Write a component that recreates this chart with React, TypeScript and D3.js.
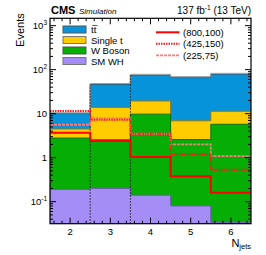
import React, { useEffect, useRef } from 'react';
import * as d3 from 'd3';

// N_jets bins
const bins = [2, 3, 4, 5, 6];
// stacked backgrounds (bottom -> top)
const smWH = [0.19, 0.2, 0.14, 0.08, 0.034];
const wBoson = [2.6, 2.35, 9.6, 2.5, 5.7];
const singleT = [1.7, 11.35, 9.7, 4.3, 5.6];
const ttbar = [5.5, 32, 55, 59, 67];
// signal points (mH, mchi)
const sig800 = [3.7, 2.4, 1.03, 0.38, 0.16];
const sig425 = [11.5, 7.3, 3.5, 1.19, 0.53];
const sig225 = [5.6, 7.9, 3.5, 2.0, 1.09];

const bgNames = ['tt\u0305', 'Single t', 'W Boson', 'SM WH'];
const sigNames = ['(800,100)', '(425,150)', '(225,75)'];

const W = 266;
const H = 255;
const font = '"Liberation Sans", Arial, sans-serif';

export default function App() {
  const ref = useRef<SVGSVGElement>(null);

  useEffect(() => {
    if (!ref.current) return;
    const svg = d3.select(ref.current);
    svg.selectAll('*').remove();

    const left = 50, right = 251, top = 18.3, bottom = 223.7;
    const x = d3.scaleLinear().domain([1.5, 6.5]).range([left, right]);
    const y = d3.scaleLog().domain([0.0316, 1470]).range([bottom, top]);

    svg.append('defs').append('clipPath').attr('id', 'plot')
      .append('rect').attr('x', left).attr('y', top)
      .attr('width', right - left).attr('height', bottom - top);

    const g = svg.append('g').attr('clip-path', 'url(#plot)');

    const toPts = (vals: number[]) => {
      const pts = vals.map((v, i) => [bins[i] - 0.5, v] as [number, number]);
      pts.push([6.5, vals[vals.length - 1]]);
      return pts;
    };

    // cumulative stack
    const layers = [smWH, wBoson, singleT, ttbar];
    const cum: number[][] = [];
    layers.forEach((l, k) => {
      cum.push(l.map((v, i) => v + (k > 0 ? cum[k - 1][i] : 0)));
    });
    const fills = ['#a48ef6', '#05ad05', '#ffcc00', '#0793d9'];
    const strokes = ['#6d5fb0', '#0a6e0a', '#8a7a20', '#1f5f86'];

    const area = d3.area<[number, number]>()
      .curve(d3.curveStepAfter)
      .x(d => x(d[0]))
      .y0(bottom + 5)
      .y1(d => y(d[1]));

    for (let k = 3; k >= 0; k--) {
      g.append('path')
        .attr('d', area(toPts(cum[k])))
        .attr('fill', fills[k])
        .attr('stroke', strokes[k])
        .attr('stroke-width', 1);
    }
    // total outline
    const line = d3.line<[number, number]>()
      .curve(d3.curveStepAfter)
      .x(d => x(d[0]))
      .y(d => y(d[1]));
    g.append('path')
      .attr('d', line(toPts(cum[3])))
      .attr('transform', 'translate(0,-1)')
      .attr('fill', 'none')
      .attr('stroke', '#999')
      .attr('stroke-width', 1);

    // dotted bin edges
    [2.5, 3.5].forEach((e, j) => {
      const tot = Math.max(cum[3][j], cum[3][j + 1]);
      g.append('line')
        .attr('x1', x(e)).attr('x2', x(e))
        .attr('y1', bottom).attr('y2', y(tot))
        .attr('stroke', '#222').attr('stroke-width', 1)
        .attr('stroke-dasharray', '1.5,1.5');
    });

    // signals
    const sigs = [
      { v: sig225, c: '#ff7a7a', dash: '3,1', w: 1.8 },
      { v: sig425, c: '#ff1a1a', dash: '1.5,1', w: 2 },
      { v: sig800, c: '#ff0000', dash: null, w: 2 },
    ];
    sigs.forEach(s => {
      g.append('path')
        .attr('d', line(toPts(s.v)))
        .attr('fill', 'none')
        .attr('stroke', s.c)
        .attr('stroke-width', s.w)
        .attr('stroke-dasharray', s.dash);
    });

    // frame
    svg.append('rect')
      .attr('x', left).attr('y', top)
      .attr('width', right - left).attr('height', bottom - top)
      .attr('fill', 'none').attr('stroke', '#000').attr('stroke-width', 1.2);

    // x ticks
    const ax = svg.append('g').attr('stroke', '#000').attr('stroke-width', 1);
    d3.range(1.6, 6.45, 0.2).forEach(t => {
      const major = Math.abs(t - Math.round(t)) < 0.01;
      const len = major ? 6 : 3;
      ax.append('line').attr('x1', x(t)).attr('x2', x(t)).attr('y1', bottom).attr('y2', bottom - len);
      ax.append('line').attr('x1', x(t)).attr('x2', x(t)).attr('y1', top).attr('y2', top + len);
    });
    bins.forEach(b => {
      svg.append('text')
        .attr('x', x(b)).attr('y', bottom + 11)
        .attr('text-anchor', 'middle')
        .attr('font-family', font).attr('font-size', 9.5)
        .text(String(b));
    });

    // y ticks
    y.ticks().forEach(t => {
      const lg = Math.log10(t);
      const major = Math.abs(lg - Math.round(lg)) < 1e-6;
      const len = major ? 6 : 3;
      ax.append('line').attr('x1', left).attr('x2', left + len).attr('y1', y(t)).attr('y2', y(t));
      ax.append('line').attr('x1', right).attr('x2', right - len).attr('y1', y(t)).attr('y2', y(t));
      if (major) {
        const p = Math.round(lg);
        const tx = svg.append('text')
          .attr('x', left - 3).attr('y', y(t) + 3.5)
          .attr('text-anchor', 'end')
          .attr('font-family', font).attr('font-size', 9.5);
        if (p === 0) tx.text('1');
        else if (p === 1) tx.text('10');
        else {
          tx.append('tspan').text('10');
          tx.append('tspan').attr('dy', -4).attr('font-size', 6.5).text(String(p));
        }
      }
    });

    // axis titles
    svg.append('text')
      .attr('transform', `translate(24,${top - 5}) rotate(-90)`)
      .attr('text-anchor', 'end')
      .attr('font-family', font).attr('font-size', 11)
      .text('Events');
    const xt = svg.append('text')
      .attr('x', right).attr('y', 246.5)
      .attr('text-anchor', 'end')
      .attr('font-family', font).attr('font-size', 11);
    xt.append('tspan').text('N');
    xt.append('tspan').attr('dy', 2.5).attr('font-size', 7.5).text('jets');

    // header
    svg.append('text')
      .attr('x', 51).attr('y', 14)
      .attr('font-family', font).attr('font-size', 11).attr('font-weight', 'bold')
      .text('CMS');
    svg.append('text')
      .attr('x', 79).attr('y', 14)
      .attr('font-family', font).attr('font-size', 8).attr('font-style', 'italic')
      .text('Simulation');
    const lumi = svg.append('text')
      .attr('x', right).attr('y', 14)
      .attr('text-anchor', 'end')
      .attr('font-family', font).attr('font-size', 10);
    lumi.append('tspan').text('137 fb');
    lumi.append('tspan').attr('dy', -4).attr('font-size', 6.5).text('-1');
    lumi.append('tspan').attr('dy', 4).text(' (13 TeV)');

    // legend: backgrounds
    const legFills = [fills[3], fills[2], fills[1], fills[0]];
    const legStrokes = ['#555', '#777', '#555', '#777'];
    const rowsY = [29.5, 40, 50.5, 61];
    bgNames.forEach((n, i) => {
      svg.append('rect')
        .attr('x', 63).attr('y', rowsY[i] - 3.5)
        .attr('width', 23).attr('height', 7)
        .attr('fill', legFills[i]).attr('stroke', legStrokes[i]).attr('stroke-width', 1);
      svg.append('text')
        .attr('x', 91).attr('y', rowsY[i] + 3.5)
        .attr('font-family', font).attr('font-size', 9.5)
        .text(n);
    });
    // legend: signals
    const sigRows = [32.3, 43.7, 55.3];
    const legSig = [sigs[2], sigs[1], sigs[0]];
    sigNames.forEach((n, i) => {
      svg.append('line')
        .attr('x1', 156).attr('x2', 179.5)
        .attr('y1', sigRows[i]).attr('y2', sigRows[i])
        .attr('stroke', legSig[i].c).attr('stroke-width', legSig[i].w)
        .attr('stroke-dasharray', legSig[i].dash);
      svg.append('text')
        .attr('x', 183).attr('y', sigRows[i] + 3.5)
        .attr('font-family', font).attr('font-size', 9.5)
        .text(n);
    });
  }, []);

  return (
    <svg ref={ref} width={W} height={H}
      style={{ position: 'absolute', left: 0, top: 0, background: '#fff' }} />
  );
}
